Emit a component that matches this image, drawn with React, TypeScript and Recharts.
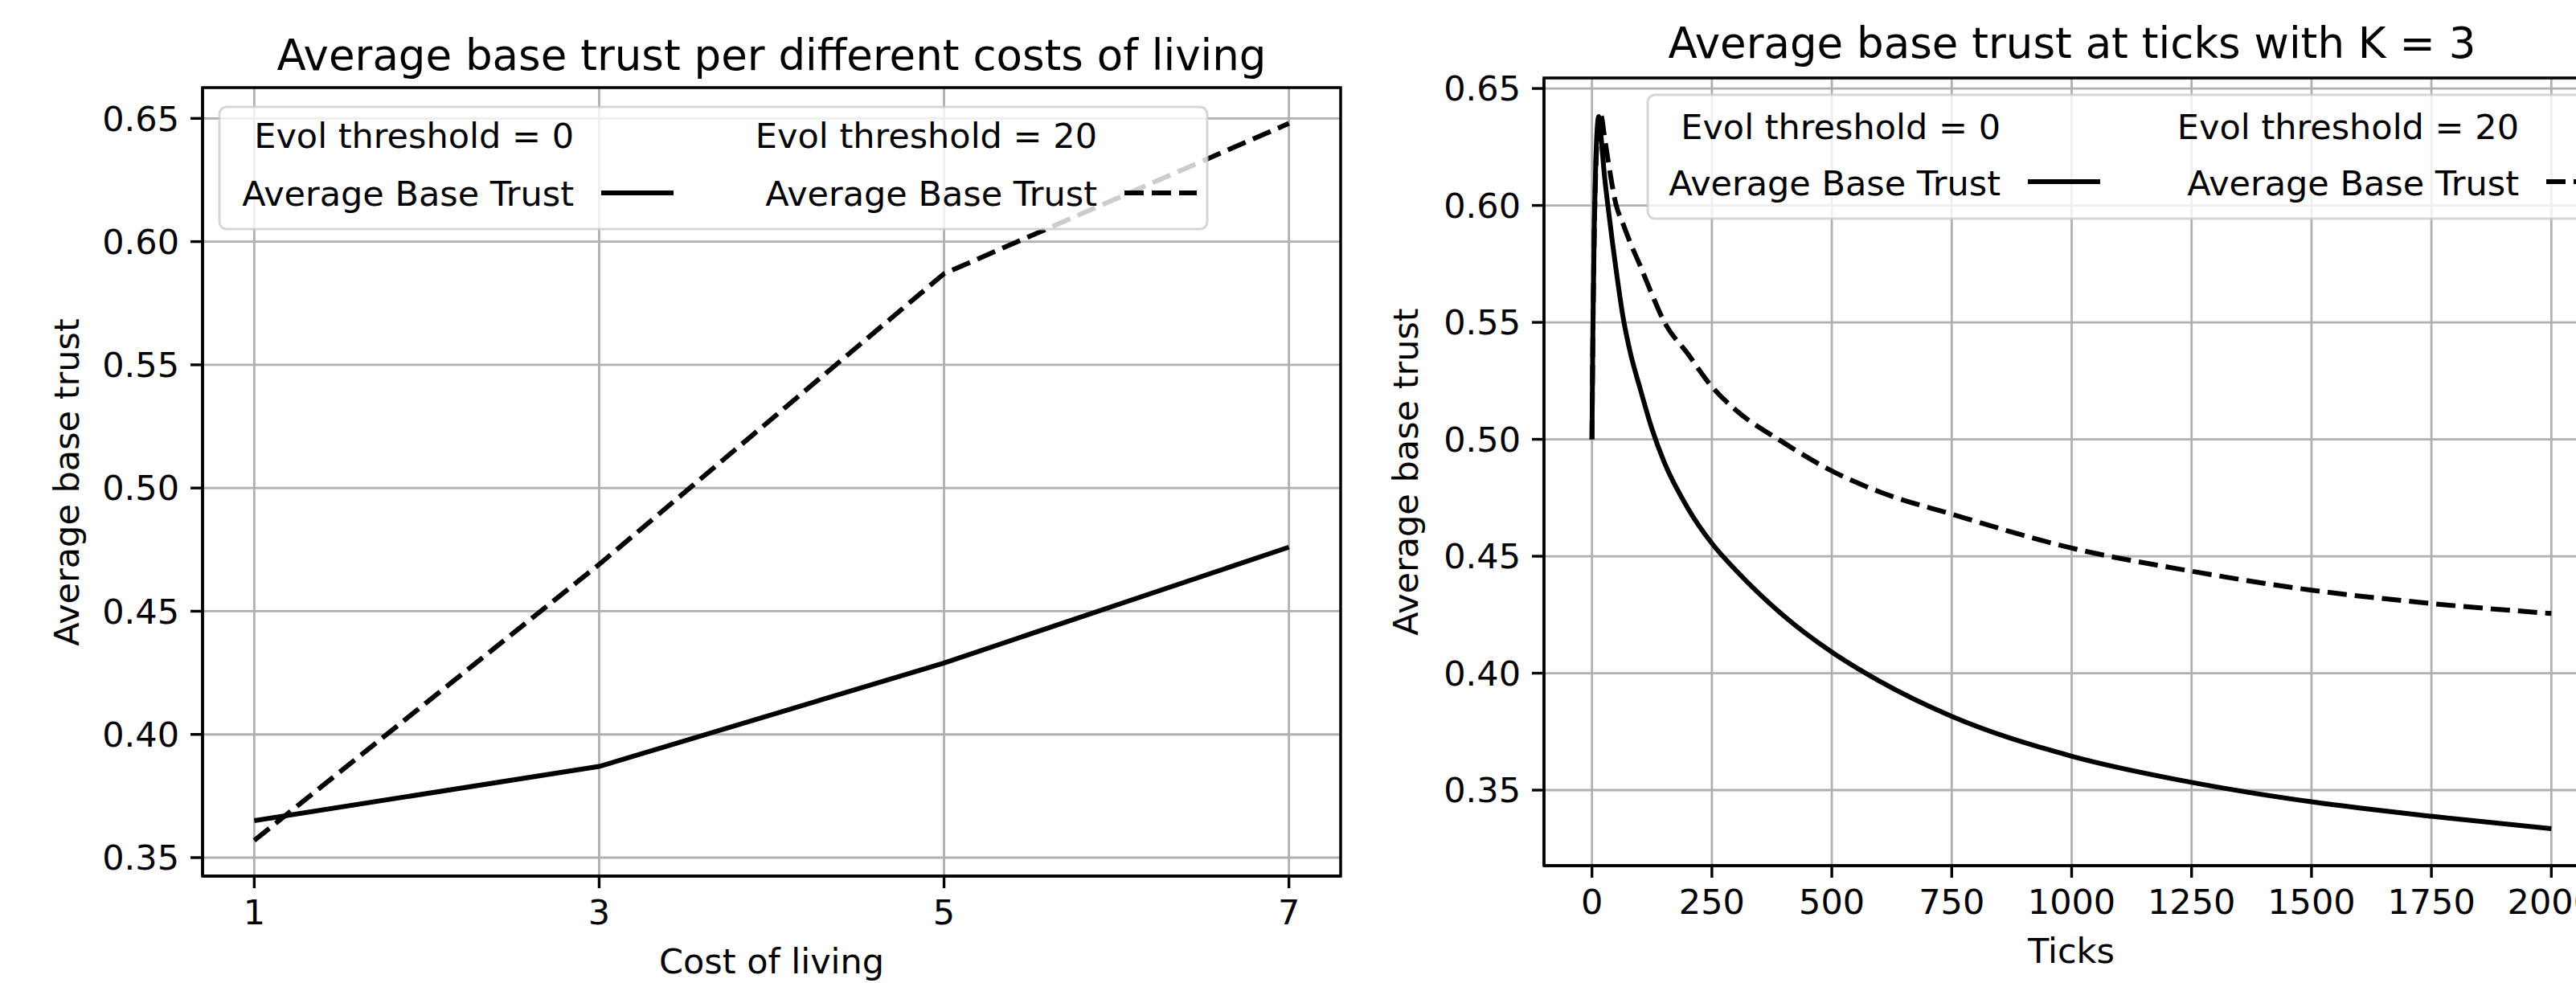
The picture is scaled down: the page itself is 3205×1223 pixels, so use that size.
import React from 'react'
import { LineChart, Line, XAxis, YAxis, CartesianGrid, ReferenceArea } from 'recharts'

const FONT = '"DejaVu Sans", Verdana, sans-serif'

// left panel: trust per cost of living
const costs = [1, 3, 5, 7]
const costTrustEvol0 = [0.365, 0.387, 0.429, 0.476]
const costTrustEvol20 = [0.357, 0.469, 0.587, 0.648]
const costTicks = [1, 3, 5, 7]
const costTrustTicks = [0.35, 0.4, 0.45, 0.5, 0.55, 0.6, 0.65]
const costDomainX: [number, number] = [0.7, 7.3]
const costDomainY: [number, number] = [0.3425, 0.6625]

// right panel: trust over ticks, K = 3
const ticks = [0, 2, 5, 8, 11, 14, 17, 20, 25, 35, 50, 65, 80, 100, 125, 150, 200, 250, 300, 400, 500, 600, 750, 1000, 1250, 1500, 1750, 2000]
const tickTrustEvol0 = [0.5, 0.548, 0.593, 0.619, 0.633, 0.638, 0.634, 0.627, 0.615, 0.597, 0.573, 0.552, 0.537, 0.522, 0.5045, 0.4905, 0.4705, 0.4555, 0.444, 0.4245, 0.409, 0.3965, 0.3815, 0.3645, 0.3533, 0.345, 0.3388, 0.3335]
const tickTrustEvol20 = [0.5, 0.545, 0.59, 0.615, 0.63, 0.637, 0.639, 0.638, 0.631, 0.6175, 0.6005, 0.592, 0.584, 0.5745, 0.562, 0.5505, 0.5365, 0.5225, 0.5125, 0.4985, 0.4865, 0.4775, 0.468, 0.4535, 0.4436, 0.4355, 0.4298, 0.4255]
const tickAxisTicks = [0, 250, 500, 750, 1000, 1250, 1500, 1750, 2000]
const tickTrustTicks = [0.35, 0.4, 0.45, 0.5, 0.55, 0.6, 0.65]
const tickDomainX: [number, number] = [-100, 2100]
const tickDomainY: [number, number] = [0.3177, 0.6545]

const legendHeaders = ['Evol threshold = 0', 'Evol threshold = 20']
const legendLabel = 'Average Base Trust'
const DASH = '24 10'

const costData = costs.map((c, i) => ({ cost: c, evol0: costTrustEvol0[i], evol20: costTrustEvol20[i] }))
const tickData = ticks.map((t, i) => ({ tick: t, evol0: tickTrustEvol0[i], evol20: tickTrustEvol20[i] }))

const spine = { stroke: '#000', strokeWidth: 3.4 }
const tickText = { fontSize: 43, fill: '#000', fontFamily: FONT }
const fmt2 = (v: number) => v.toFixed(2)

interface LegendProps {
  x: number
  y: number
  w: number
  h: number
  textEnds: number[]
  row1: number
  row2: number
  handleY: number
}

function LegendBox({ x, y, w, h, textEnds, row1, row2, handleY }: LegendProps) {
  return (
    <g fontFamily={FONT} fontSize={43} fill="#000">
      <rect x={x} y={y} width={w} height={h} rx={9} fill="#fff" fillOpacity={0.8} stroke="#cccccc" strokeOpacity={0.8} strokeWidth={3} />
      {legendHeaders.map((label, i) => (
        <g key={label}>
          <text x={textEnds[i]} y={row1} textAnchor="end">{label}</text>
          <text x={textEnds[i]} y={row2} textAnchor="end">{legendLabel}</text>
          <line
            x1={textEnds[i] + 34}
            x2={textEnds[i] + 124}
            y1={handleY}
            y2={handleY}
            stroke="#000"
            strokeWidth={6}
            strokeDasharray={i === 1 ? DASH : undefined}
          />
        </g>
      ))}
    </g>
  )
}

export default function App() {
  return (
    <div style={{ position: 'fixed', left: 0, top: 0, width: 3205, height: 1223, overflow: 'hidden', background: '#fff' }}>
      <div style={{ position: 'absolute', left: 0, top: 0 }}>
        <LineChart width={1700} height={1223} data={costData} margin={{ top: 109, right: 32, bottom: 0, left: 0 }}>
          <CartesianGrid stroke="#b0b0b0" strokeWidth={2.8} />
          <XAxis
            dataKey="cost"
            type="number"
            domain={costDomainX}
            ticks={costTicks}
            interval={0}
            allowDataOverflow
            height={133}
            tickSize={15}
            tickMargin={14}
            tick={tickText}
            tickLine={spine}
            axisLine={spine}
          />
          <YAxis
            type="number"
            domain={costDomainY}
            ticks={costTrustTicks}
            interval={0}
            allowDataOverflow
            width={252}
            tickSize={15}
            tickMargin={14}
            tick={tickText}
            tickLine={spine}
            axisLine={spine}
            tickFormatter={fmt2}
          />
          {/* axes frame (top and right spines) */}
          <ReferenceArea x1={costDomainX[0]} x2={costDomainX[1]} y1={costDomainY[0]} y2={costDomainY[1]} fill="none" fillOpacity={0} stroke="#000" strokeWidth={3.4} ifOverflow="extendDomain" />
          <Line type="linear" dataKey="evol0" stroke="#000" strokeWidth={6} dot={false} isAnimationActive={false} />
          <Line type="linear" dataKey="evol20" stroke="#000" strokeWidth={6} strokeDasharray={DASH} dot={false} isAnimationActive={false} />
        </LineChart>
      </div>
      <div style={{ position: 'absolute', left: 1700, top: 0 }}>
        <LineChart width={1600} height={1223} data={tickData} margin={{ top: 97, right: 66, bottom: 0, left: 0 }}>
          <CartesianGrid stroke="#b0b0b0" strokeWidth={2.8} />
          <XAxis
            dataKey="tick"
            type="number"
            domain={tickDomainX}
            ticks={tickAxisTicks}
            interval={0}
            allowDataOverflow
            height={146}
            tickSize={15}
            tickMargin={14}
            tick={tickText}
            tickLine={spine}
            axisLine={spine}
          />
          <YAxis
            type="number"
            domain={tickDomainY}
            ticks={tickTrustTicks}
            interval={0}
            allowDataOverflow
            width={221}
            tickSize={15}
            tickMargin={14}
            tick={tickText}
            tickLine={spine}
            axisLine={spine}
            tickFormatter={fmt2}
          />
          <ReferenceArea x1={tickDomainX[0]} x2={tickDomainX[1]} y1={tickDomainY[0]} y2={tickDomainY[1]} fill="none" fillOpacity={0} stroke="#000" strokeWidth={3.4} ifOverflow="extendDomain" />
          <Line type="monotone" dataKey="evol0" stroke="#000" strokeWidth={6} dot={false} isAnimationActive={false} />
          <Line type="monotone" dataKey="evol20" stroke="#000" strokeWidth={6} strokeDasharray={DASH} dot={false} isAnimationActive={false} />
        </LineChart>
      </div>
      <svg width={3205} height={1223} style={{ position: 'absolute', left: 0, top: 0, pointerEvents: 'none' }}>
        <g fontFamily={FONT} fill="#000" textAnchor="middle">
          <text x={960} y={87} fontSize={53}>Average base trust per different costs of living</text>
          <text x={2578} y={72} fontSize={53}>Average base trust at ticks with K = 3</text>
          <text x={960} y={1211} fontSize={43}>Cost of living</text>
          <text x={2577} y={1198} fontSize={43}>Ticks</text>
          <text x={98} y={600} fontSize={43} transform="rotate(-90 98 600)">Average base trust</text>
          <text x={1764} y={587} fontSize={43} transform="rotate(-90 1764 587)">Average base trust</text>
        </g>
        <LegendBox x={273} y={133} w={1229} h={152} textEnds={[714, 1365]} row1={184} row2={256} handleY={240} />
        <LegendBox x={2050} y={118} w={1225} h={154} textEnds={[2489, 3134]} row1={173} row2={243} handleY={226} />
      </svg>
    </div>
  )
}
